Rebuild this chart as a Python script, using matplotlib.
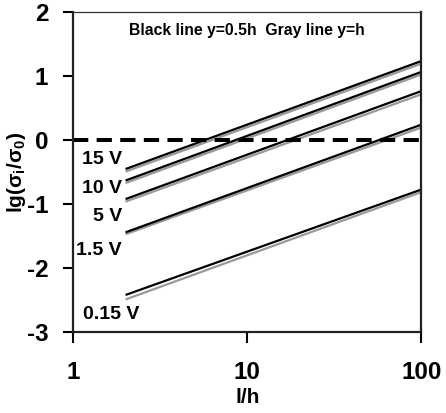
import numpy as np
import matplotlib
matplotlib.use("Agg")
from matplotlib import pyplot as plt

###* DATA
X = [2, 100]
VOLTS = ["15 V", "10 V", "5 V", "1.5 V", "0.15 V"]
BLACK = [[-0.45, 1.24], [-0.63, 1.07], [-0.92, 0.77], [-1.44, 0.245], [-2.42, -0.77]]
GRAY = [[-0.49, 1.20], [-0.67, 1.03], [-0.96, 0.72], [-1.47, 0.20], [-2.49, -0.81]]
LABEL_X = [1.91, 1.91, 1.91, 1.91, 2.39]
LABEL_Y = [-0.30, -0.76, -1.19, -1.72, -2.73]

###* FIGURE
plt.rcParams['font.family'] = ['Liberation Sans', 'DejaVu Sans']
plt.rcParams['font.weight'] = 'bold'
plt.rcParams['mathtext.fontset'] = 'custom'
plt.rcParams['mathtext.rm'] = 'Liberation Sans:bold'
plt.rcParams['mathtext.it'] = 'Liberation Sans:bold'
plt.rcParams['mathtext.bf'] = 'Liberation Sans:bold'
plt.rcParams['lines.scale_dashes'] = False

fig = plt.figure(figsize=(4.46, 4.13), dpi=100)
ax = fig.add_axes([0.164, 0.196, 0.781, 0.774])

for b, g in zip(BLACK, GRAY):
    ax.plot(X, g, color="#999999", lw=1.6, solid_capstyle="butt")
    ax.plot(X, b, color="black", lw=1.6, solid_capstyle="butt")
ax.plot([1, 100], [0, 0], color="black", lw=2.9, dashes=(11, 6))

for lab, lx, ly in zip(VOLTS, LABEL_X, LABEL_Y):
    ax.text(lx, ly, lab, ha="right", va="center", fontsize=14, weight="bold")
ax.text(10, 1.72, "Black line y=0.5h  Gray line y=h", ha="center", va="center",
        fontsize=11.3, weight="bold")

ax.set_xscale("log")
ax.set_xlim(1, 100)
ax.set_ylim(-3, 2)
ax.set_xticks([1, 10, 100])
ax.set_xticklabels(["1", "10", "100"])
ax.minorticks_off()
ax.set_yticks([-3, -2, -1, 0, 1, 2])
ax.set_yticklabels(["-3", "-2", "-1", "0", "1", "2"])
ax.tick_params(axis="x", direction="out", length=8, width=1.5, pad=13, labelsize=17.5)
ax.tick_params(axis="y", direction="out", length=7, width=1.5, pad=11, labelsize=17.5)
for s in ["left", "bottom", "right"]:
    ax.spines[s].set_linewidth(1.6)
    ax.spines[s].set_color("#222222")
ax.spines["top"].set_linewidth(0.9)
ax.spines["top"].set_color("#333333")

ax.set_xlabel("l/h", fontsize=15, weight="bold", labelpad=3)
ax.set_ylabel(r"lg($\sigma_{i}$/$\sigma_{0}$)", fontsize=15, weight="bold", labelpad=-1)

fig.savefig("out.png", dpi=100)
